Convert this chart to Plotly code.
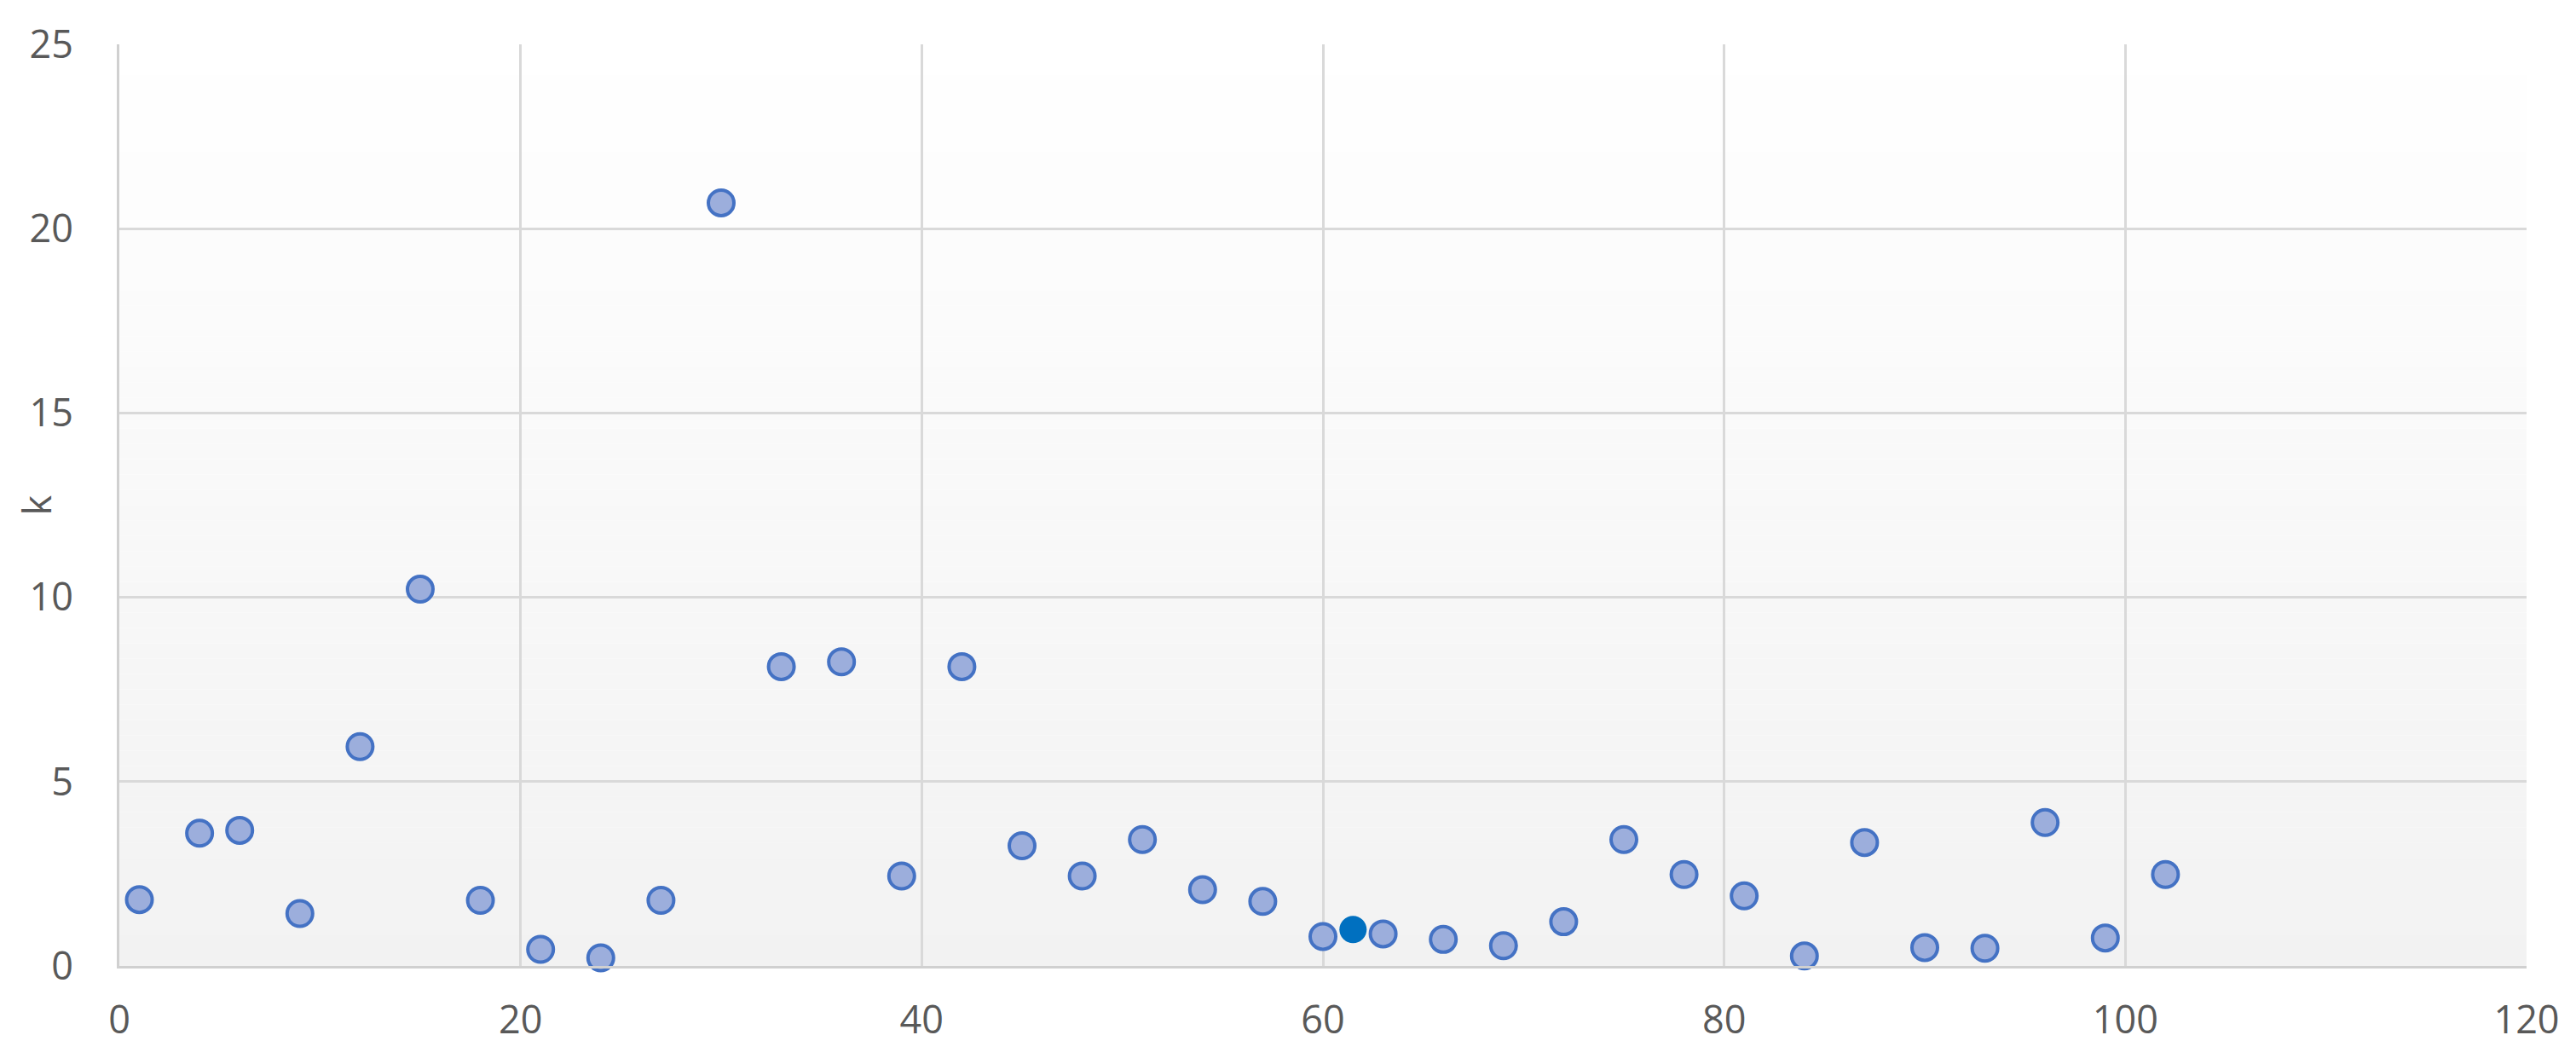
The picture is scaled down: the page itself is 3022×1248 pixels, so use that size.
import plotly.graph_objects as go

x_vals = [1, 4, 6, 9, 12, 15, 18, 21, 24, 27, 30, 33, 36, 39, 42, 45, 48, 51, 54, 57, 60,
          63, 66, 69, 72, 75, 78, 81, 84, 87, 90, 93, 96, 99, 102]
k_vals = [1.8, 3.6, 3.68, 1.42, 5.95, 10.22, 1.78, 0.45, 0.22, 1.78, 20.7, 8.12, 8.25, 2.44,
          8.12, 3.26, 2.44, 3.43, 2.07, 1.75, 0.8,
          0.87, 0.72, 0.55, 1.2, 3.43, 2.48, 1.9, 0.27, 3.35, 0.5, 0.48, 3.89, 0.76, 2.48]
hl_x = [61.5]
hl_k = [0.99]

x_ticks = [0, 20, 40, 60, 80, 100, 120]
y_ticks = [0, 5, 10, 15, 20, 25]

W, H = 3022, 1248
fig = go.Figure()

fig.add_trace(go.Scatter(
    x=x_vals, y=k_vals, mode="markers",
    marker=dict(size=30, color="#9CAEDC", line=dict(color="#4472C4", width=4)),
    showlegend=False, cliponaxis=False))
fig.add_trace(go.Scatter(
    x=hl_x, y=hl_k, mode="markers",
    marker=dict(size=32, color="#0070C0", line=dict(width=0)),
    showlegend=False, cliponaxis=False))

# vertical gradient background (white at top -> light gray at bottom)
n = 60
shapes = []
for i in range(n):
    t = (i + 0.5) / n  # 0 bottom, 1 top
    v = round(242 + (255 - 242) * t)
    shapes.append(dict(type="rect", xref="x domain", yref="y domain",
                       x0=0, x1=1, y0=i / n, y1=(i + 1) / n,
                       fillcolor=f"rgb({v},{v},{v})", line=dict(width=0),
                       layer="below"))

font = dict(family="Open Sans, DejaVu Sans, sans-serif", size=45, color="#595959")

fig.update_layout(
    width=W, height=H,
    margin=dict(l=132, r=66, t=39, b=123),
    paper_bgcolor="white", plot_bgcolor="rgba(0,0,0,0)",
    shapes=shapes,
    font=font,
    xaxis=dict(range=[0, 120], tickvals=x_ticks, showgrid=True, gridcolor="#D9D9D9",
               gridwidth=3, zeroline=False, showline=True, linecolor="#D0D0D0", linewidth=3,
               mirror=False, ticks="", ticklabelstandoff=22, tickfont=font, fixedrange=True),
    yaxis=dict(range=[0, 25], tickvals=y_ticks, showgrid=True, gridcolor="#D9D9D9",
               gridwidth=3, zeroline=False, showline=True, linecolor="#D0D0D0", linewidth=3,
               ticks="", ticklabelstandoff=42, tickfont=font, fixedrange=True),
    annotations=[dict(text="k", textangle=-90, xref="paper", yref="paper",
                      x=-0.0347, y=0.5, xanchor="center", yanchor="middle",
                      showarrow=False, font=font)],
)

fig.write_html("out.html")
